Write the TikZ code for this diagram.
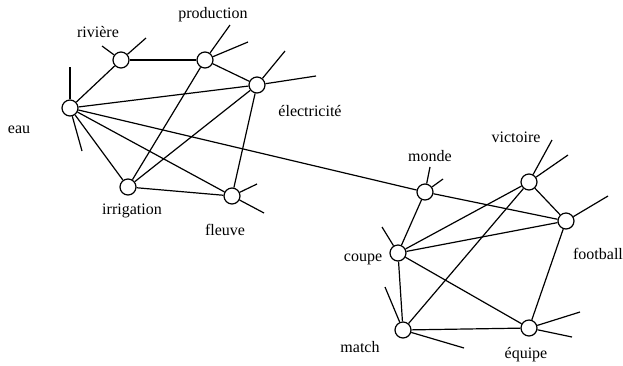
\documentclass[tikz,border=0pt]{standalone}
\usepackage{fontspec}
\setmainfont{Liberation Serif}
\usetikzlibrary{positioning}
\tikzset{
  x=1pt, y=-1pt,
  every word/.style={circle, draw, fill=white, minimum size=16pt, inner sep=0pt},
  word text/.style={font=\fontsize{16}{19}\selectfont, inner sep=0pt}
  }

\begin{document}
\begin{tikzpicture}[line width=1.2pt]
    \useasboundingbox (0,0) rectangle (623,365);

    % first cluster
    \node [every word] at (70,108) (eau) {};
    \node [every word] at (121,60) (riviere) {};
    \node [every word] at (205,60) (production) {};
    \node [every word] at (257,85) (electricite) {};
    \node [every word] at (128,187) (irrigation) {};
    \node [every word] at (232,196) (fleuve) {};
    % second cluster
    \node [every word] at (425,192) (monde) {};
    \node [every word] at (529,182) (victoire) {};
    \node [every word] at (566,221) (football) {};
    \node [every word] at (398,253) (coupe) {};
    \node [every word] at (403,330) (match) {};
    \node [every word] at (529,328) (equipe) {};

    \node [word text] at (19,130) (eau t) {eau};
    \node [word text] at (98,32) (riviere t) {rivière};
    \node [word text] at (213,15) (production t) {production};
    \node [word text] at (310,111) (electricite t) {électricité};
    \node [word text] at (132,211) (irrigation t) {irrigation};
    \node [word text] at (225,230) (fleuve t) {fleuve};
    \node [word text] at (430,156) (monde t) {monde};
    \node [word text] at (516,137) (victoire t) {victoire};
    \node [word text] at (598,254) (football t) {football};
    \node [word text] at (363,259) (coupe t) {coupe};
    \node [word text] at (360,347) (match t) {match};
    \node [word text] at (526,355) (equipe t) {équipe};

    % loose ends
    \coordinate (eau a) at (70,67);
    \coordinate (eau b) at (82,151);
    \coordinate (riviere a) at (102,46);
    \coordinate (riviere b) at (146,38);
    \coordinate (production a) at (230,25);
    \coordinate (production b) at (248,42);
    \coordinate (electricite a) at (285,51);
    \coordinate (electricite b) at (316,76);
    \coordinate (fleuve a) at (257,184);
    \coordinate (fleuve b) at (264,213);
    \coordinate (monde a) at (430,167);
    \coordinate (monde b) at (443,179);
    \coordinate (victoire a) at (552,140);
    \coordinate (victoire b) at (568,155);
    \coordinate (football a) at (608,196);
    \coordinate (coupe a) at (382,227);
    \coordinate (match a) at (385,287);
    \coordinate (match b) at (464,348);
    \coordinate (equipe a) at (580,312);
    \coordinate (equipe b) at (572,337);

    \draw (eau) edge (riviere);
    \draw (riviere) edge (production);
    \draw (production) edge (electricite);
    \draw (eau) edge (electricite);
    \draw (eau) edge (irrigation);
    \draw (eau) edge (fleuve);
    \draw (production) edge (irrigation);
    \draw (electricite) edge (irrigation);
    \draw (electricite) edge (fleuve);
    \draw (irrigation) edge (fleuve);
    % the bridge between both clusters
    \draw (eau) edge (monde);
    \draw (monde) edge (football);
    \draw (monde) edge (coupe);
    \draw (coupe) edge (victoire);
    \draw (coupe) edge (football);
    \draw (victoire) edge (football);
    \draw (victoire) edge (match);
    \draw (coupe) edge (match);
    \draw (coupe) edge (equipe);
    \draw (match) edge (equipe);
    \draw (football) edge (equipe);

    \foreach \n/\e in {eau/a, eau/b, riviere/a, riviere/b, production/a,
      production/b, electricite/a, electricite/b, fleuve/a, fleuve/b,
      monde/a, monde/b, victoire/a, victoire/b, football/a, coupe/a,
      match/a, match/b, equipe/a, equipe/b}
      \draw (\n) -- (\n\space\e);
\end{tikzpicture}
\end{document}
